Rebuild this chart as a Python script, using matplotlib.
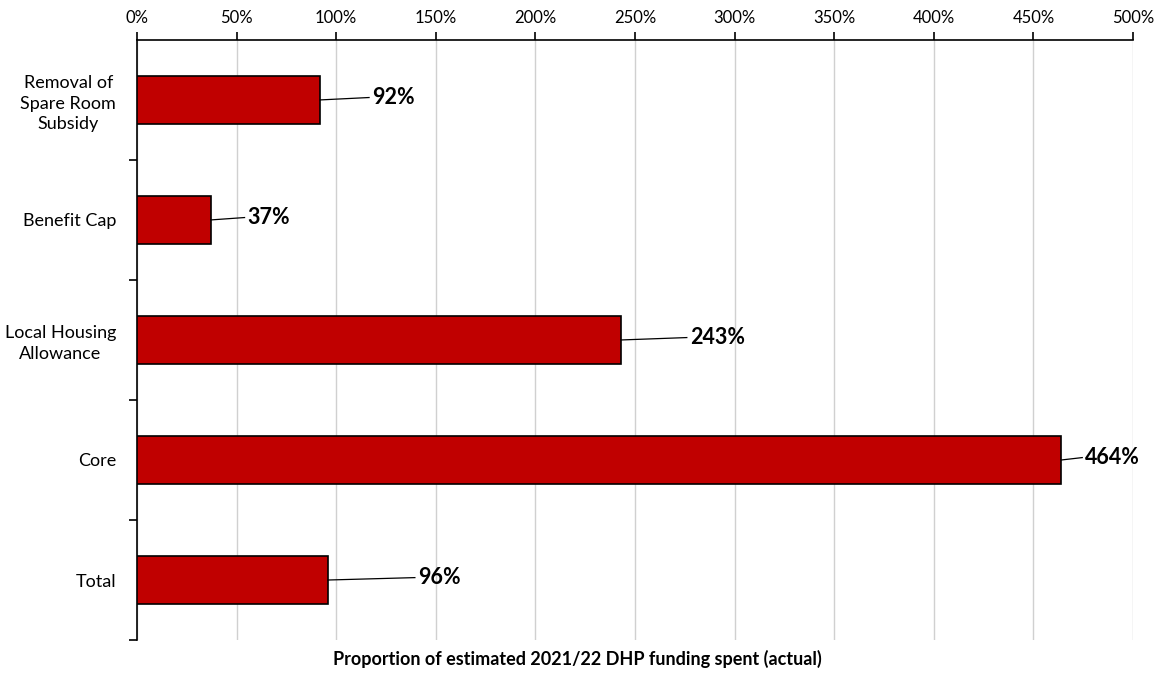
import matplotlib.pyplot as plt
import numpy as np

# data
categories = ["Removal of\nSpare Room\nSubsidy", "Benefit Cap", "Local Housing\nAllowance", "Core", "Total"]
values = [92, 37, 243, 464, 96]
label_text = ["92%", "37%", "243%", "464%", "96%"]
label_x = [118, 55.5, 277.5, 476, 141]  # where the data labels sit

plt.rcParams["font.family"] = ["Lato", "DejaVu Sans"]

fig = plt.figure(figsize=(11.55, 6.73), dpi=100)
ax = fig.add_axes([0.1186, 0.049, 0.8624, 0.8917])

y = np.arange(len(categories))
ax.barh(y, values, height=0.4, color="#C00000", edgecolor="black", linewidth=1.2, zorder=3)

# data labels with leader lines
for yi, v, lx, txt in zip(y, values, label_x, label_text):
    ax.plot([v, lx - 1.5], [yi, yi - 0.02], color="black", lw=0.9, zorder=4)
    ax.text(lx, yi - 0.02, txt, ha="left", va="center", fontsize=15.5, fontweight="bold", zorder=5)

ax.set_xlim(0, 500)
ax.set_ylim(len(categories) - 0.5, -0.5)

ax.xaxis.tick_top()
ax.set_xticks(np.arange(0, 501, 50))
ax.set_xticklabels([f"{t}%" for t in range(0, 501, 50)], fontsize=12)
ax.tick_params(axis="x", direction="out", length=6, width=1.2, pad=4)
ax.grid(axis="x", color="#d0d0d0", linewidth=1, zorder=0)

ax.set_yticks(y)
ax.set_yticklabels(categories, fontsize=13, multialignment="center", linespacing=1.35)
ax.set_yticks(np.arange(0.5, len(categories), 1), minor=True)
ax.tick_params(axis="y", which="major", length=0, pad=15)
ax.tick_params(axis="y", which="minor", direction="out", length=6, width=1.2)

for s in ["right", "bottom"]:
    ax.spines[s].set_visible(False)
for s in ["top", "left"]:
    ax.spines[s].set_linewidth(1.2)

fig.text(0.5, 0.008, "Proportion of estimated 2021/22 DHP funding spent (actual)",
         ha="center", va="bottom", fontsize=13, fontweight="bold")

fig.savefig("out.png", dpi=100)
